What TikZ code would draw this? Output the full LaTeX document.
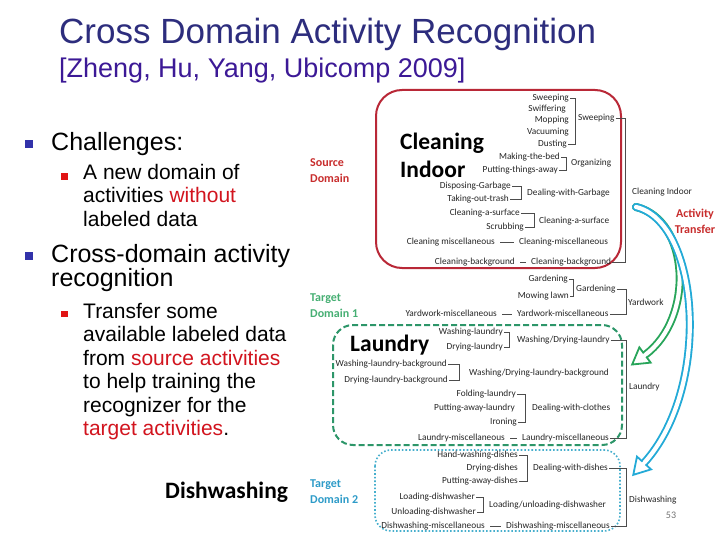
\documentclass[tikz,border=0pt]{standalone}
\usepackage{fontspec}
\setmainfont{Liberation Sans}
\newfontfamily\calfont{Carlito}
\usepackage{xcolor}
\usetikzlibrary{calc}
\definecolor{titleblue}{RGB}{45,45,125}
\definecolor{subviolet}{RGB}{60,25,150}
\definecolor{bulblue}{RGB}{50,50,170}
\definecolor{bulred}{RGB}{225,20,20}
\definecolor{emred}{RGB}{210,20,30}
\definecolor{srcred}{RGB}{185,40,55}
\definecolor{srclabel}{RGB}{200,45,45}
\definecolor{tgtgreen}{RGB}{45,150,105}
\definecolor{tgtlabel}{RGB}{70,175,115}
\definecolor{tgtcyan}{RGB}{70,175,205}
\definecolor{tgtcylabel}{RGB}{45,155,200}
\definecolor{xcyan}{RGB}{35,170,215}
\definecolor{xgreen}{RGB}{40,165,90}

% bracket joining two activity nodes at a given x
\newcommand{\actbrk}[3]{\draw[brk] (#1.east) -- (#3,0 |- #1.east) -- (#3,0 |- #2.east) -- (#2.east);}
% hollow head of a transfer arrow: base centre, control point behind it, colour
\newcommand{\xferhead}[3]{\filldraw[draw=#3, fill=white, line width=1.8pt, line join=miter]
  ($(#1)!2.1pt!90:(#2)$) -- ($(#1)!9.5pt!90:(#2)$) -- ($(#1)!-16pt!(#2)$)
  -- ($(#1)!9.5pt!-90:(#2)$) -- ($(#1)!2.1pt!-90:(#2)$);}

\begin{document}
\begin{tikzpicture}[x=1pt,y=-1pt,
    item/.style={font=\calfont\fontsize{9.3}{11}\selectfont, inner sep=1pt,
                 text height=6pt, text depth=1.9pt, text=black!85},
    itemR/.style={item, anchor=east},
    itemL/.style={item, anchor=west},
    brk/.style={draw=black!70, line width=0.6pt},
    dashlink/.style={brk, shorten <=4pt, shorten >=4pt},
    para/.style={anchor=north west, inner sep=0pt, align=left},
    bulA/.style={fill=bulblue, minimum size=7.5pt, inner sep=0pt},
    bulB/.style={fill=bulred, minimum size=6.5pt, inner sep=0pt},
    bigtext/.style={font=\calfont\bfseries\fontsize{23.5}{28}\selectfont, inner sep=0pt},
    dom/.style={font=\calfont\bfseries\fontsize{12}{16}\selectfont, align=left,
                anchor=west, inner sep=0pt},
    xferout/.style={draw=#1, line width=8pt, line cap=round},
    xferin/.style={draw=white, line width=4.2pt, line cap=round}
  ]
  \useasboundingbox[fill=white] (0,0) rectangle (720,540);

  % title
  \node[anchor=base west, inner sep=0pt, text=titleblue, font=\fontsize{35}{40}\selectfont]
    (title) at (59,44) {Cross Domain Activity Recognition};
  \node[anchor=base west, inner sep=0pt, text=subviolet, font=\fontsize{27}{30}\selectfont]
    (subtitle) at (59,78) {[Zheng, Hu, Yang, Ubicomp 2009]};

  % bullets
  \node[bulA] (b1) at (29,144) {};
  \node[para, font=\fontsize{25}{24}\selectfont] (t1) at (51,132) {Challenges:};
  \node[bulB] (b2) at (64.5,176.5) {};
  \node[para, font=\fontsize{21}{23.5}\selectfont] (t2) at (83,164)
    {A new domain of\\activities \textcolor{emred}{without}\\labeled data};
  \node[bulA] (b3) at (29,256) {};
  \node[para, font=\fontsize{25}{24}\selectfont] (t3) at (51,244)
    {Cross-domain activity\\recognition};
  \node[bulB] (b4) at (64.5,314) {};
  \node[para, font=\fontsize{21}{23.5}\selectfont] (t4) at (83,303)
    {Transfer some\\available labeled data\\from \textcolor{emred}{source activities}\\to help training the\\recognizer for the\\\textcolor{emred}{target activities}.};

  % domain boxes
  \draw[srcred, line width=2pt, rounded corners=26pt] (376,90) rectangle (621,268);
  \draw[tgtgreen, line width=2pt, dash pattern=on 6pt off 3pt, rounded corners=20pt]
    (333,325) rectangle (622,445);
  \draw[tgtcyan, line width=1.6pt, dash pattern=on 1.6pt off 2pt, rounded corners=16pt]
    (375,450) rectangle (620,531);

  \node[dom, text=srclabel] (srcLab) at (310,171) {Source\\Domain};
  \node[dom, text=tgtlabel] (tgt1Lab) at (310,306) {Target\\Domain 1};
  \node[dom, text=tgtcylabel] (tgt2Lab) at (310,492) {Target\\Domain 2};

  \node[bigtext, anchor=west, align=left] (bigClean) at (400,155) {Cleaning\\Indoor};
  \node[bigtext, anchor=base west] (bigLaun) at (350,351) {Laundry};
  \node[bigtext, anchor=base west] (bigDish) at (165,498) {Dishwashing};

  % cleaning indoor
  \node[itemR] (c1) at (570,98) {Sweeping};
  \node[itemR] (c2) at (567,109) {Swiffering};
  \node[itemR] (c3) at (570,120) {Mopping};
  \node[itemR] (c4) at (570,132) {Vacuuming};
  \node[itemR] (c5) at (568,144) {Dusting};
  \node[itemL] (gSweep) at (577,118) {Sweeping};
  \actbrk{c1}{c5}{575}
  \node[itemR] (c6) at (561,157) {Making-the-bed};
  \node[itemR] (c7) at (559,170) {Putting-things-away};
  \node[itemL] (gOrg) at (570,163) {Organizing};
  \actbrk{c6}{c7}{566}
  \node[itemR] (c8) at (512,186) {Disposing-Garbage};
  \node[itemR] (c9) at (510,199) {Taking-out-trash};
  \node[itemL] (gGarb) at (526,193) {Dealing-with-Garbage};
  \actbrk{c8}{c9}{521}
  \node[itemR] (c10) at (521,213) {Cleaning-a-surface};
  \node[itemR] (c11) at (525,227) {Scrubbing};
  \node[itemL] (gSurf) at (538,221) {Cleaning-a-surface};
  \actbrk{c10}{c11}{534}
  \node[itemR] (c12) at (496,242) {Cleaning miscellaneous};
  \node[itemL] (gCmisc) at (518,242) {Cleaning-miscellaneous};
  \draw[dashlink] (c12) -- (gCmisc);
  \node[itemR] (c13) at (516,262) {Cleaning-background};
  \node[itemL] (gCbg) at (530,262) {Cleaning-background};
  \draw[dashlink] (c13) -- (gCbg);
  \node[itemL] (hClean) at (631,192) {Cleaning Indoor};
  \actbrk{gSweep}{gCbg}{625}

  % yardwork
  \node[itemR] (y1) at (569,279) {Gardening};
  \node[itemR] (y2) at (570,296) {Mowing lawn};
  \node[itemL] (gGard) at (575,289) {Gardening};
  \actbrk{y1}{y2}{573}
  \node[itemR] (y3) at (498,314) {Yardwork-miscellaneous};
  \node[itemL] (gYmisc) at (516,314) {Yardwork-miscellaneous};
  \draw[dashlink] (y3) -- (gYmisc);
  \node[itemL] (hYard) at (627,303) {Yardwork};
  \actbrk{gGard}{gYmisc}{626}

  % laundry
  \node[itemR] (l1) at (504,332) {Washing-laundry};
  \node[itemR] (l2) at (504,347) {Drying-laundry};
  \node[itemL] (gWD) at (516,340) {Washing/Drying-laundry};
  \actbrk{l1}{l2}{509}
  \node[itemR] (l3) at (448,364) {Washing-laundry-background};
  \node[itemR] (l4) at (449,380) {Drying-laundry-background};
  \node[itemL] (gWDbg) at (468,373) {Washing/Drying-laundry-background};
  \actbrk{l3}{l4}{459}
  \node[itemR] (l5) at (517,394) {Folding-laundry};
  \node[itemR] (l6) at (516,408) {Putting-away-laundry};
  \node[itemR] (l7) at (518,422) {Ironing};
  \node[itemL] (gCloth) at (531,408) {Dealing-with-clothes};
  \actbrk{l5}{l7}{525}
  \node[itemR] (l8) at (506,438) {Laundry-miscellaneous};
  \node[itemL] (gLmisc) at (521,438) {Laundry-miscellaneous};
  \draw[dashlink] (l8) -- (gLmisc);
  \node[itemL] (hLaun) at (628,387) {Laundry};
  \actbrk{gWD}{gLmisc}{626}

  % dishwashing
  \node[itemR] (d1) at (519,455) {Hand-washing-dishes};
  \node[itemR] (d2) at (519,468) {Drying-dishes};
  \node[itemR] (d3) at (519,481) {Putting-away-dishes};
  \node[itemL] (gDish) at (532,468) {Dealing-with-dishes};
  \actbrk{d1}{d3}{527}
  \node[itemR] (d4) at (476,497) {Loading-dishwasher};
  \node[itemR] (d5) at (477,512) {Unloading-dishwasher};
  \node[itemL] (gLoad) at (488,505) {Loading/unloading-dishwasher};
  \actbrk{d4}{d5}{483}
  \node[itemR] (d6) at (486,526) {Dishwashing-miscellaneous};
  \node[itemL] (gDmisc) at (505,526) {Dishwashing-miscellaneous};
  \draw[dashlink] (d6) -- (gDmisc);
  \node[itemL] (hDish) at (628,500) {Dishwashing};
  \actbrk{gDish}{gDmisc}{626}

  % activity transfer arrows
  \coordinate (xs) at (636,207);
  \coordinate (cA) at (700,222);
  \coordinate (cB) at (712,388);
  \coordinate (hc) at (644,463);
  \coordinate (gA) at (690,220);
  \coordinate (gB) at (695,318);
  \coordinate (hg) at (645,355);
  \draw[xferout=xgreen] (xs) .. controls (gA) and (gB) .. (hg);
  \draw[xferin] (xs) .. controls (gA) and (gB) .. (hg);
  \xferhead{hg}{gB}{xgreen}
  \draw[xferout=xcyan] (xs) .. controls (cA) and (cB) .. (hc);
  \draw[xferin] (xs) .. controls (cA) and (cB) .. (hc);
  \xferhead{hc}{cB}{xcyan}
  \node[font=\calfont\bfseries\fontsize{12}{16}\selectfont, text=srclabel, align=center]
    (xLab) at (695,221) {Activity\\Transfer};

  \node[font=\calfont\fontsize{10}{12}\selectfont, text=black!55] (pgnum) at (671,515) {53};
\end{tikzpicture}
\end{document}
